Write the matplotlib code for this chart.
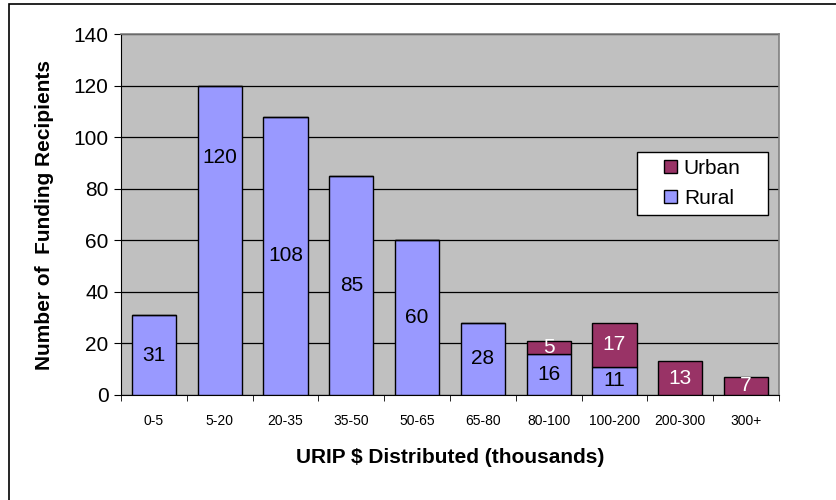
import numpy as np
import matplotlib.pyplot as plt
from matplotlib.patches import Rectangle

plt.rcParams['font.family'] = ['Liberation Sans', 'DejaVu Sans']

categories = ['0-5', '5-20', '20-35', '35-50', '50-65', '65-80',
              '80-100', '100-200', '200-300', '300+']
rural = [31, 120, 108, 85, 60, 28, 16, 11, 0, 0]
urban = [0, 0, 0, 0, 0, 0, 5, 17, 13, 7]

rural_color = '#9999FF'
urban_color = '#993366'

fig = plt.figure(figsize=(8.36, 5.0), dpi=100)
# outer chart frame (runs off right and bottom edges like the source)
fig.patches.append(Rectangle((9 / 836, -0.1), 1.0, (496 / 500) + 0.1,
                             transform=fig.transFigure, fill=False,
                             edgecolor='black', linewidth=1.2))

ax = fig.add_axes([121 / 836, 105 / 500, 658 / 836, 361 / 500])
ax.set_facecolor('#C0C0C0')

x = np.arange(len(categories))
w = 0.67
b1 = ax.bar(x, rural, w, color=rural_color, edgecolor='black', linewidth=1, label='Rural', zorder=3)
b2 = ax.bar(x, urban, w, bottom=rural, color=urban_color, edgecolor='black', linewidth=1, label='Urban', zorder=3)

# the label on the tallest bar was dragged up in the original
nudge = {1: 32}
for i in range(len(categories)):
    if rural[i] > 0:
        ax.text(x[i], rural[i] / 2 + nudge.get(i, 0), str(rural[i]), ha='center', va='center',
                fontsize=15, color='black', zorder=4)
    if urban[i] > 0:
        ax.text(x[i], rural[i] + urban[i] / 2, str(urban[i]), ha='center', va='center',
                fontsize=15, color='white', zorder=4)

ax.set_xlim(-0.5, len(categories) - 0.5)
ax.set_ylim(0, 140)
ax.set_yticks(np.arange(0, 141, 20))
ax.yaxis.grid(True, color='black', linewidth=0.9, zorder=1)
ax.set_axisbelow(True)

ax.set_xticks(x)
ax.set_xticklabels(categories, fontsize=10)
ax.tick_params(axis='x', length=0, pad=14)
ax.set_xticks(np.arange(-0.5, len(categories), 1), minor=True)
ax.tick_params(axis='x', which='minor', length=4, direction='out', color='black')
ax.tick_params(axis='y', labelsize=15, length=5, direction='out', pad=4)

for s in ['top', 'right']:
    ax.spines[s].set_color('#808080')
    ax.spines[s].set_linewidth(1.2)
ax.spines['left'].set_color('black')
ax.spines['bottom'].set_color('black')

ax.set_xlabel('URIP $ Distributed (thousands)', fontsize=15, fontweight='bold', labelpad=14)
ax.set_ylabel('Number of  Funding Recipients', fontsize=15, fontweight='bold', labelpad=14)

# legend: white box with the entries centred inside it
lx, ly, lw, lh = 0.784, 0.499, 0.199, 0.174
ax.add_patch(Rectangle((lx, ly), lw, lh, transform=ax.transAxes, facecolor='white',
                       edgecolor='black', linewidth=1, zorder=5))
leg = ax.legend(handles=[b2, b1], labels=['Urban', 'Rural'], loc='center',
                bbox_to_anchor=(lx, ly, lw, lh), fontsize=15, frameon=False,
                handlelength=0.6, handleheight=0.6, labelspacing=0.55,
                handletextpad=0.35, borderaxespad=0, borderpad=0)
leg.set_zorder(6)

fig.savefig('out.png', dpi=100)
